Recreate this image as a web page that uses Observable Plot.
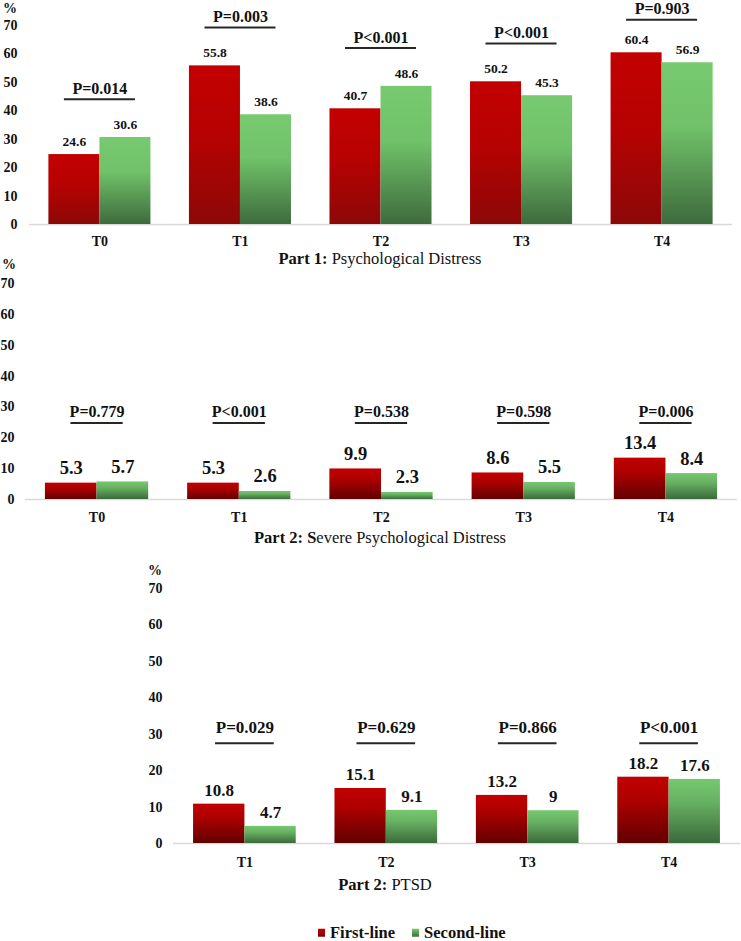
<!DOCTYPE html>
<html>
<head>
<meta charset="utf-8">
<script src="https://cdn.jsdelivr.net/npm/d3@7"></script>
<script src="https://cdn.jsdelivr.net/npm/@observablehq/plot@0.6"></script>
<style>
  html, body { margin: 0; padding: 0; background: #fff; }
  #root { position: relative; width: 741px; height: 941px; overflow: hidden; font-family: "Liberation Serif", Tinos, "Times New Roman", Times, "DejaVu Serif", serif; color: #111; }
  .abs { position: absolute; }
  .txt { position: absolute; white-space: nowrap; line-height: 1; transform: translateY(-50%); }
  .ctr { transform: translate(-50%, -50%); }
  .pct { font-weight: bold; font-size: 14px; }
  .title { font-size: 16.5px; }
  .legend { font-weight: bold; font-size: 16.5px; display: flex; align-items: center; }
  .sw { display: inline-block; width: 7px; height: 8px; margin-right: 5px; }
</style>
</head>
<body>
<svg width="0" height="0" style="position:absolute">
  <defs>
    <linearGradient id="red1" x1="0" y1="0" x2="0" y2="1">
      <stop offset="0" stop-color="#c30000"/>
      <stop offset="0.45" stop-color="#b60202"/>
      <stop offset="1" stop-color="#8c0808"/>
    </linearGradient>
    <linearGradient id="green1" x1="0" y1="0" x2="0" y2="1">
      <stop offset="0" stop-color="#78ca70"/>
      <stop offset="0.4" stop-color="#70c169"/>
      <stop offset="1" stop-color="#3e6b3d"/>
    </linearGradient>
    <linearGradient id="red2" x1="0" y1="0" x2="0" y2="1">
      <stop offset="0" stop-color="#c20000"/>
      <stop offset="0.35" stop-color="#ae0000"/>
      <stop offset="1" stop-color="#620000"/>
    </linearGradient>
    <linearGradient id="green2" x1="0" y1="0" x2="0" y2="1">
      <stop offset="0" stop-color="#76c86e"/>
      <stop offset="0.35" stop-color="#68b263"/>
      <stop offset="1" stop-color="#3b6a3b"/>
    </linearGradient>
  </defs>
</svg>
<div id="root"></div>
<script>
// ---------- data ----------
const timesAll = ["T0", "T1", "T2", "T3", "T4"];
const timesPtsd = ["T1", "T2", "T3", "T4"];
const seriesNames = ["First-line", "Second-line"];
const yTicks = [0, 10, 20, 30, 40, 50, 60, 70];

const distressFirst = [24.6, 55.8, 40.7, 50.2, 60.4];
const distressSecond = [30.6, 38.6, 48.6, 45.3, 56.9];
const distressP = ["P=0.014", "P=0.003", "P<0.001", "P<0.001", "P=0.903"];

const severeFirst = [5.3, 5.3, 9.9, 8.6, 13.4];
const severeSecond = [5.7, 2.6, 2.3, 5.5, 8.4];
const severeP = ["P=0.779", "P<0.001", "P=0.538", "P=0.598", "P=0.006"];

const ptsdFirst = [10.8, 15.1, 13.2, 18.2];
const ptsdSecond = [4.7, 9.1, 9, 17.6];
const ptsdP = ["P=0.029", "P=0.629", "P=0.866", "P<0.001"];

// ---------- drawing ----------
const W = 741;
const root = document.getElementById("root");
const FONT = '"Liberation Serif", Tinos, "Times New Roman", Times, "DejaVu Serif", serif';

function panel(cfg) {
  const rows = cfg.times.map((t, i) => ({time: t, first: cfg.first[i], second: cfg.second[i], p: cfg.p[i]}));
  const n = cfg.times.length;
  const pi = 0.274;
  const step = (W - cfg.ml - cfg.mr) / (n - pi + 2 * cfg.po);
  const bw = step * (1 - pi);
  const half = bw / 2;
  const pY = cfg.pLine;
  const svg = Plot.plot({
    width: W,
    height: cfg.height,
    marginTop: 25,
    marginBottom: 26,
    marginLeft: cfg.ml,
    marginRight: cfg.mr,
    style: {fontFamily: FONT, fontSize: "14px", fontWeight: "bold", background: "transparent", color: "#111", maxWidth: "none", overflow: "visible"},
    x: {domain: cfg.times, paddingInner: pi, paddingOuter: cfg.po, round: false, tickSize: 0, tickPadding: cfg.xPad, label: null},
    y: {domain: [0, 70], ticks: yTicks, tickSize: 0, tickPadding: cfg.yPad, label: null, tickFormat: d => String(d)},
    marks: [
      Plot.ruleY([0], {stroke: "#d9d9d9", strokeWidth: 1.5}),
      Plot.barY(rows, {x: "time", y: "first", fill: `url(#${cfg.red})`, insetRight: half}),
      Plot.barY(rows, {x: "time", y: "second", fill: `url(#${cfg.green})`, insetLeft: half}),
      Plot.text(rows, {x: "time", y: "first", text: d => String(d.first), dx: -bw / 4, dy: cfg.vDy, fontSize: cfg.vSize, fontWeight: "bold", fill: "#111"}),
      Plot.text(rows, {x: "time", y: "second", text: d => String(d.second), dx: bw / 4, dy: cfg.vDy, fontSize: cfg.vSize, fontWeight: "bold", fill: "#111"}),
      Plot.tickY(rows, {x: "time", y: pY, stroke: "#262626", strokeWidth: 2, insetLeft: cfg.pInset, insetRight: cfg.pInset}),
      Plot.text(rows, {x: "time", y: pY, text: "p", dy: cfg.pDy, fontSize: cfg.pSize, fontWeight: "bold", fill: "#111"})
    ]
  });
  const holder = document.createElement("div");
  holder.className = "abs";
  holder.style.left = "0px";
  holder.style.top = cfg.top + "px";
  holder.appendChild(svg);
  root.appendChild(holder);
}

panel({
  times: timesAll, first: distressFirst, second: distressSecond, p: distressP,
  top: 0, height: 250, ml: 29, mr: 9, po: 0.138, xPad: 12, yPad: 12,
  red: "red1", green: "green1", vSize: 13.5, vDy: -13,
  pLine: d => Math.min(Math.max(d.first, d.second) + 13.5, 72), pInset: 15.5, pSize: 16, pDy: -10.5
});

panel({
  times: timesAll, first: severeFirst, second: severeSecond, p: severeP,
  top: 258, height: 267, ml: 25, mr: 4, po: 0.14, xPad: 13, yPad: 11,
  red: "red2", green: "green2", vSize: 18.5, vDy: -15,
  pLine: () => 24.8, pInset: 25.5, pSize: 16, pDy: -11
});

panel({
  times: timesPtsd, first: ptsdFirst, second: ptsdSecond, p: ptsdP,
  top: 563, height: 306, ml: 173, mr: 1, po: 0.142, xPad: 14, yPad: 11,
  red: "red2", green: "green2", vSize: 17, vDy: -14,
  pLine: () => 27.5, pInset: 22, pSize: 17, pDy: -16
});

function addText(html, cls, left, top) {
  const el = document.createElement("div");
  el.className = "txt " + cls;
  el.style.left = left + "px";
  el.style.top = top + "px";
  el.innerHTML = html;
  root.appendChild(el);
  return el;
}

addText("%", "pct", 3, 9);
addText("%", "pct", 2, 265);
addText("%", "pct", 148, 571);

addText("<b>Part 1:</b> Psychological Distress", "title ctr", 380, 259);
addText("<b>Part 2: S</b>evere Psychological Distress", "title ctr", 380, 538);
addText("<b>Part 2:</b> PTSD", "title ctr", 385, 885);

const legend = addText("", "legend", 318, 933);
legend.innerHTML =
  `<span class="sw" style="background:linear-gradient(#c30000,#7a0404)"></span><span>${seriesNames[0]}</span>` +
  `<span class="sw" style="margin-left:17px;background:linear-gradient(#78ca70,#3e6b3d)"></span><span>${seriesNames[1]}</span>`;
</script>
</body>
</html>
